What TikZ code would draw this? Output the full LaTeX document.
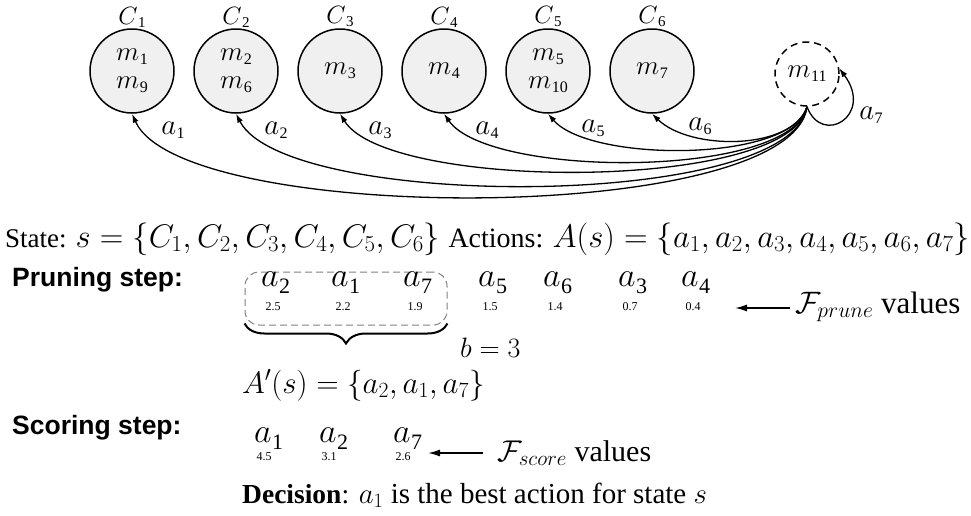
\RequirePackage{fix-cm}
\documentclass[tikz,border=0pt]{standalone}
\usepackage[no-math]{fontspec}
\setmainfont{Liberation Serif}
\newfontfamily\sansb{Liberation Sans}
\usepackage{graphicx}
\usetikzlibrary{decorations.pathreplacing,arrows.meta}
\newcommand\fs[1]{\fontsize{#1}{#1}\selectfont}
% letter, subscript, letter size, subscript size, drop
\newcommand\tsym[5]{{\fs{#3}$#1$}\kern0.5pt\raisebox{-#5pt}{\fs{#4}#2}}
\tikzset{
  x=1pt, y=-1pt,
  circ/.style={circle, draw, line width=1.5pt, fill=black!6, minimum size=84pt, inner sep=0pt, align=center, font=\fontsize{27}{28}\selectfont},
  clab/.style={anchor=south, inner sep=1pt},
  arr/.style={line width=1.3pt, -{Latex[length=9pt,width=6pt]}},
  harr/.style={line width=1.5pt, -{Latex[length=12pt,width=7pt]}},
  txt/.style={inner sep=0pt, font=\fs{26.5}},
  hd/.style={inner sep=0pt, anchor=base west, font=\sansb\bfseries\fs{26.5}},
  val/.style={inner sep=0pt, anchor=base, font=\fs{12}},
  act/.style={inner sep=0pt, anchor=base west},
}
\begin{document}
\begin{tikzpicture}
\useasboundingbox (0,0) rectangle (971,515);
% clusters
\node[circ] (c1) at (132,71) {\tsym{m}{1}{27}{16}{4}\\\tsym{m}{9}{27}{16}{4}};
\node[circ] (c2) at (236,71) {\tsym{m}{2}{27}{16}{4}\\\tsym{m}{6}{27}{16}{4}};
\node[circ] (c3) at (340,71) {\tsym{m}{3}{27}{16}{4}};
\node[circ] (c4) at (444,71) {\tsym{m}{4}{27}{16}{4}};
\node[circ] (c5) at (548,71) {\tsym{m}{5}{27}{16}{4}\\\tsym{m}{10}{27}{16}{4}};
\node[circ] (c6) at (652,71) {\tsym{m}{7}{27}{16}{4}};
\node[circ, dashed, dash pattern=on 7pt off 5pt, fill=none, minimum size=64pt] (m11) at (807,74) {\tsym{m}{11}{27}{16}{4}};
\foreach \i in {1,...,6}{
  \node[clab] (lc\i) at (c\i.north) {\tsym{C}{\i}{25}{15}{3}};
}
% action arrows
\draw[arr] (m11.south) .. controls +(-15,119) and +(50,112) .. (c1.south);
\draw[arr] (m11.south) .. controls +(-15,104) and +(50,97) .. (c2.south);
\draw[arr] (m11.south) .. controls +(-15,85) and +(48,78) .. (c3.south);
\draw[arr] (m11.south) .. controls +(-15,72) and +(45,65) .. (c4.south);
\draw[arr] (m11.south) .. controls +(-15,56) and +(42,49) .. (c5.south);
\draw[arr] (m11.south) .. controls +(-15,44) and +(38,37) .. (c6.south);
\draw[arr] (m11.south) .. controls +(15,40) and +(35,47) .. (m11.10);
\node[inner sep=0pt] (l1) at (173,130) {\tsym{a}{1}{29}{16}{4}};
\node[inner sep=0pt] (l2) at (276,130) {\tsym{a}{2}{29}{16}{4}};
\node[inner sep=0pt] (l3) at (380,130) {\tsym{a}{3}{29}{16}{4}};
\node[inner sep=0pt] (l4) at (487,130) {\tsym{a}{4}{29}{16}{4}};
\node[inner sep=0pt] (l5) at (593,128) {\tsym{a}{5}{29}{16}{4}};
\node[inner sep=0pt] (l6) at (700,126) {\tsym{a}{6}{29}{16}{4}};
\node[inner sep=0pt] (l7) at (871,115) {\tsym{a}{7}{29}{16}{4}};
% state line
\node[txt, anchor=base west] (state) at (5,247) {\fs{27}State: \fs{32.7}$s=\{C_1,C_2,C_3,C_4,C_5,C_6\}$\ \fs{28}Actions: \fs{32.7}$A(s)=\{a_1,a_2,a_3,a_4,a_5,a_6,a_7\}$};
% pruning
\node[hd] (prune) at (12,286) {Pruning step:};
\node[draw, dashed, dash pattern=on 7pt off 4pt, gray, line width=1pt, rounded corners=14pt, minimum width=202pt, minimum height=53pt, inner sep=0pt] (box) at (346,298.5) {};
\foreach \x/\s/\v/\n in {270/2/2.5/p1, 340/1/2.2/p2, 412/7/1.9/p3, 487/5/1.5/p4, 552/6/1.4/p5, 627/3/0.7/p6, 690/4/0.4/p7}{
  \node[act] (\n) at (\x-9,286) {\tsym{a}{\s}{34}{22}{7}};
  \node[val] (v\n) at (\x+3,310) {\v};
}
\draw[decorate, decoration={brace, mirror, amplitude=20pt}, line width=2pt] ([yshift=2pt]box.south west) -- ([yshift=2pt]box.south east);
\node[txt, anchor=base west, font=\fs{28}] (b) at (460,357) {$b=3$};
\node[txt, anchor=base west, font=\fs{31}] (fprune) at (795,313) {$\mathcal{F}_{prune}$ values};
\coordinate (tp) at (735,308);
\coordinate (tpt) at (790,308);
\draw[harr] (tpt) -- (tp);
\node[txt, anchor=base west, font=\fs{31}] (aprime) at (242,393) {$A'(s)=\{a_2,a_1,a_7\}$};
% scoring
\node[hd] (score) at (12,434) {Scoring step:};
\foreach \x/\s/\v/\n in {263/1/4.5/s1, 328/2/3.1/s2, 402/7/2.6/s3}{
  \node[act] (\n) at (\x-9,442) {\tsym{a}{\s}{34}{22}{7}};
  \node[val] (v\n) at (\x+1,460) {\v};
}
\node[txt, anchor=base west, font=\fs{30}] (fscore) at (497,461) {$\mathcal{F}_{score}$ values};
\coordinate (ts) at (428,453);
\coordinate (tst) at (483,453);
\draw[harr] (tst) -- (ts);
\node[txt, anchor=base west] (dec) at (242,503) {\fs{27.5}\textbf{Decision}:\fs{29} $a_1$ is the best action for state $s$};
\end{tikzpicture}
\end{document}
